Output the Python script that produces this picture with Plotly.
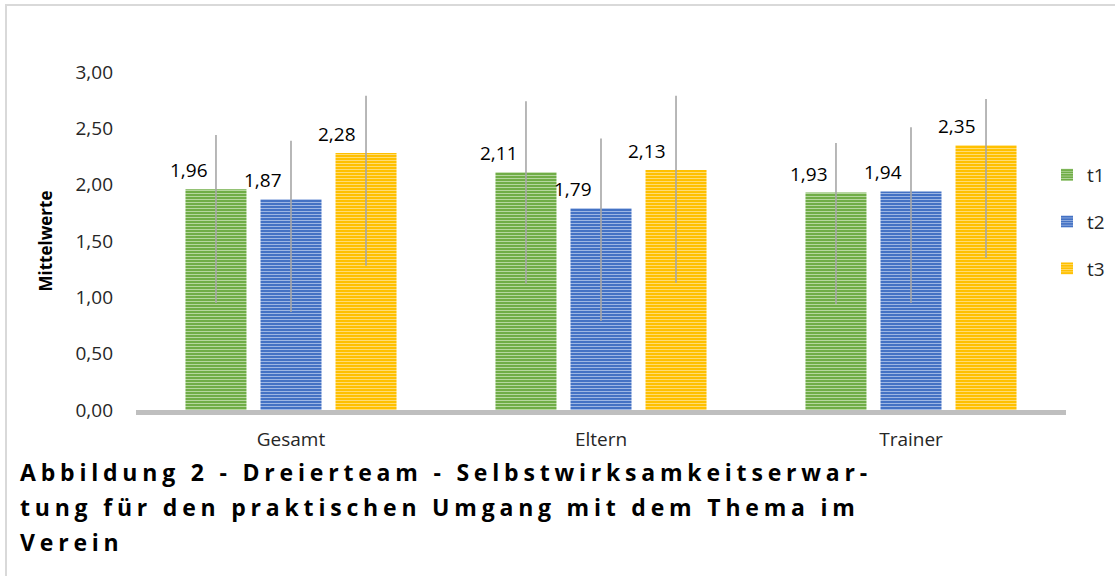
import plotly.graph_objects as go

categories = ["Gesamt", "Eltern", "Trainer"]
series_names = ["t1", "t2", "t3"]
t1 = [1.96, 2.11, 1.93]
t2 = [1.87, 1.79, 1.94]
t3 = [2.28, 2.13, 2.35]
t1_err_plus = [0.48, 0.63, 0.44]
t1_err_minus = [1.01, 0.99, 0.99]
t2_err_plus = [0.52, 0.62, 0.57]
t2_err_minus = [1.00, 1.00, 0.99]
t3_err_plus = [0.51, 0.66, 0.41]
t3_err_minus = [1.00, 1.00, 1.00]
y_ticks = [0, 0.5, 1.0, 1.5, 2.0, 2.5, 3.0]
y_tick_labels = ["0,00", "0,50", "1,00", "1,50", "2,00", "2,50", "3,00"]
caption_lines = [
    "Abbildung 2 - Dreierteam - Selbstwirksamkeitserwar-",
    "tung für den praktischen Umgang mit dem Thema im",
    "Verein",
]

values = [t1, t2, t3]
err_plus = [t1_err_plus, t2_err_plus, t3_err_plus]
err_minus = [t1_err_minus, t2_err_minus, t3_err_minus]
colors = ["#70AD47", "#4472C4", "#FFC000"]
stripe = ["#B5D79E", "#9DB6E3", "#FFDC73"]

FONT = "Open Sans"
TXT = "#262626"

# figure geometry (pixels)
W, H = 1116, 576
L, R, T, B = 136, 50, 72, 166
PW, PH = W - L - R, H - T - B


def px_x(p):
    return (p - L) / PW


def px_y(p):
    return (H - B - p) / PH


fig = go.Figure()
for i, name in enumerate(series_names):
    fig.add_trace(go.Bar(
        name=name,
        x=categories,
        y=values[i],
        legendgroup=name,
        marker=dict(
            color=colors[i],
            line=dict(width=0),
            pattern=dict(shape="-", fgcolor=stripe[i], bgcolor=colors[i], size=3, solidity=0.35, fillmode="replace"),
        ),
        error_y=dict(
            type="data", symmetric=False,
            array=err_plus[i], arrayminus=err_minus[i],
            color="#A6A6A6", thickness=1.6, width=0,
        ),
        hoverinfo="x+y",
    ))

# value labels (German decimal comma)
slot_px = 74
for i in range(3):
    for j, c in enumerate(categories):
        v = values[i][j]
        fig.add_annotation(
            x=c, y=v, xref="x", yref="y",
            text=f"{v:.2f}".replace(".", ","),
            showarrow=False,
            xshift=(i - 1) * slot_px - 28,
            yshift=19,
            yanchor="middle",
            font=dict(family=FONT, size=19, color="#000000"),
        )

# caption, one annotation per line
for k, line in enumerate(caption_lines):
    fig.add_annotation(
        text='<b><span style="letter-spacing:4.8px">' + line + '</span></b>',
        xref="paper", yref="paper",
        x=px_x(18), y=px_y(472 + 35 * k),
        xanchor="left", yanchor="middle", align="left",
        showarrow=False,
        font=dict(family=FONT, size=23, color="#000000"),
    )

# frame lines (chart border)
fig.add_shape(type="line", xref="paper", yref="paper",
              x0=px_x(5), x1=px_x(1115), y0=px_y(5), y1=px_y(5),
              line=dict(color="#D9D9D9", width=2))
fig.add_shape(type="line", xref="paper", yref="paper",
              x0=px_x(6), x1=px_x(6), y0=px_y(5), y1=px_y(580),
              line=dict(color="#D9D9D9", width=2))

fig.update_layout(
    width=W, height=H,
    margin=dict(l=L, r=R, t=T, b=B, autoexpand=False),
    paper_bgcolor="white", plot_bgcolor="white",
    barmode="group", bargap=0.274, bargroupgap=0.187,
    font=dict(family=FONT, size=18, color=TXT),
    showlegend=True,
    legend=dict(
        x=px_x(1047), y=px_y(156),
        xanchor="left", yanchor="top",
        font=dict(family=FONT, size=19, color=TXT),
        tracegroupgap=19, itemwidth=30,
        bgcolor="rgba(0,0,0,0)",
        traceorder="grouped",
    ),
    xaxis=dict(
        showgrid=False, showline=True, linecolor="#BFBFBF", linewidth=5,
        ticks="", ticklabelstandoff=8, tickfont=dict(family=FONT, size=19, color=TXT),
        zeroline=False, automargin=False,
    ),
    yaxis=dict(
        range=[0, 3], tickvals=y_ticks, ticktext=y_tick_labels,
        showgrid=False, showline=False, zeroline=False, ticks="",
        ticklabelstandoff=22, tickfont=dict(family=FONT, size=19, color=TXT),
        title=dict(text="<b>Mittelwerte</b>", font=dict(family=FONT, size=17, color="#000000"), standoff=18),
        automargin=False,
    ),
)

fig.write_html(
    "out.html",
    config={"displayModeBar": False},
    post_script="document.body.style.margin='0';document.body.style.overflow='hidden';",
)
